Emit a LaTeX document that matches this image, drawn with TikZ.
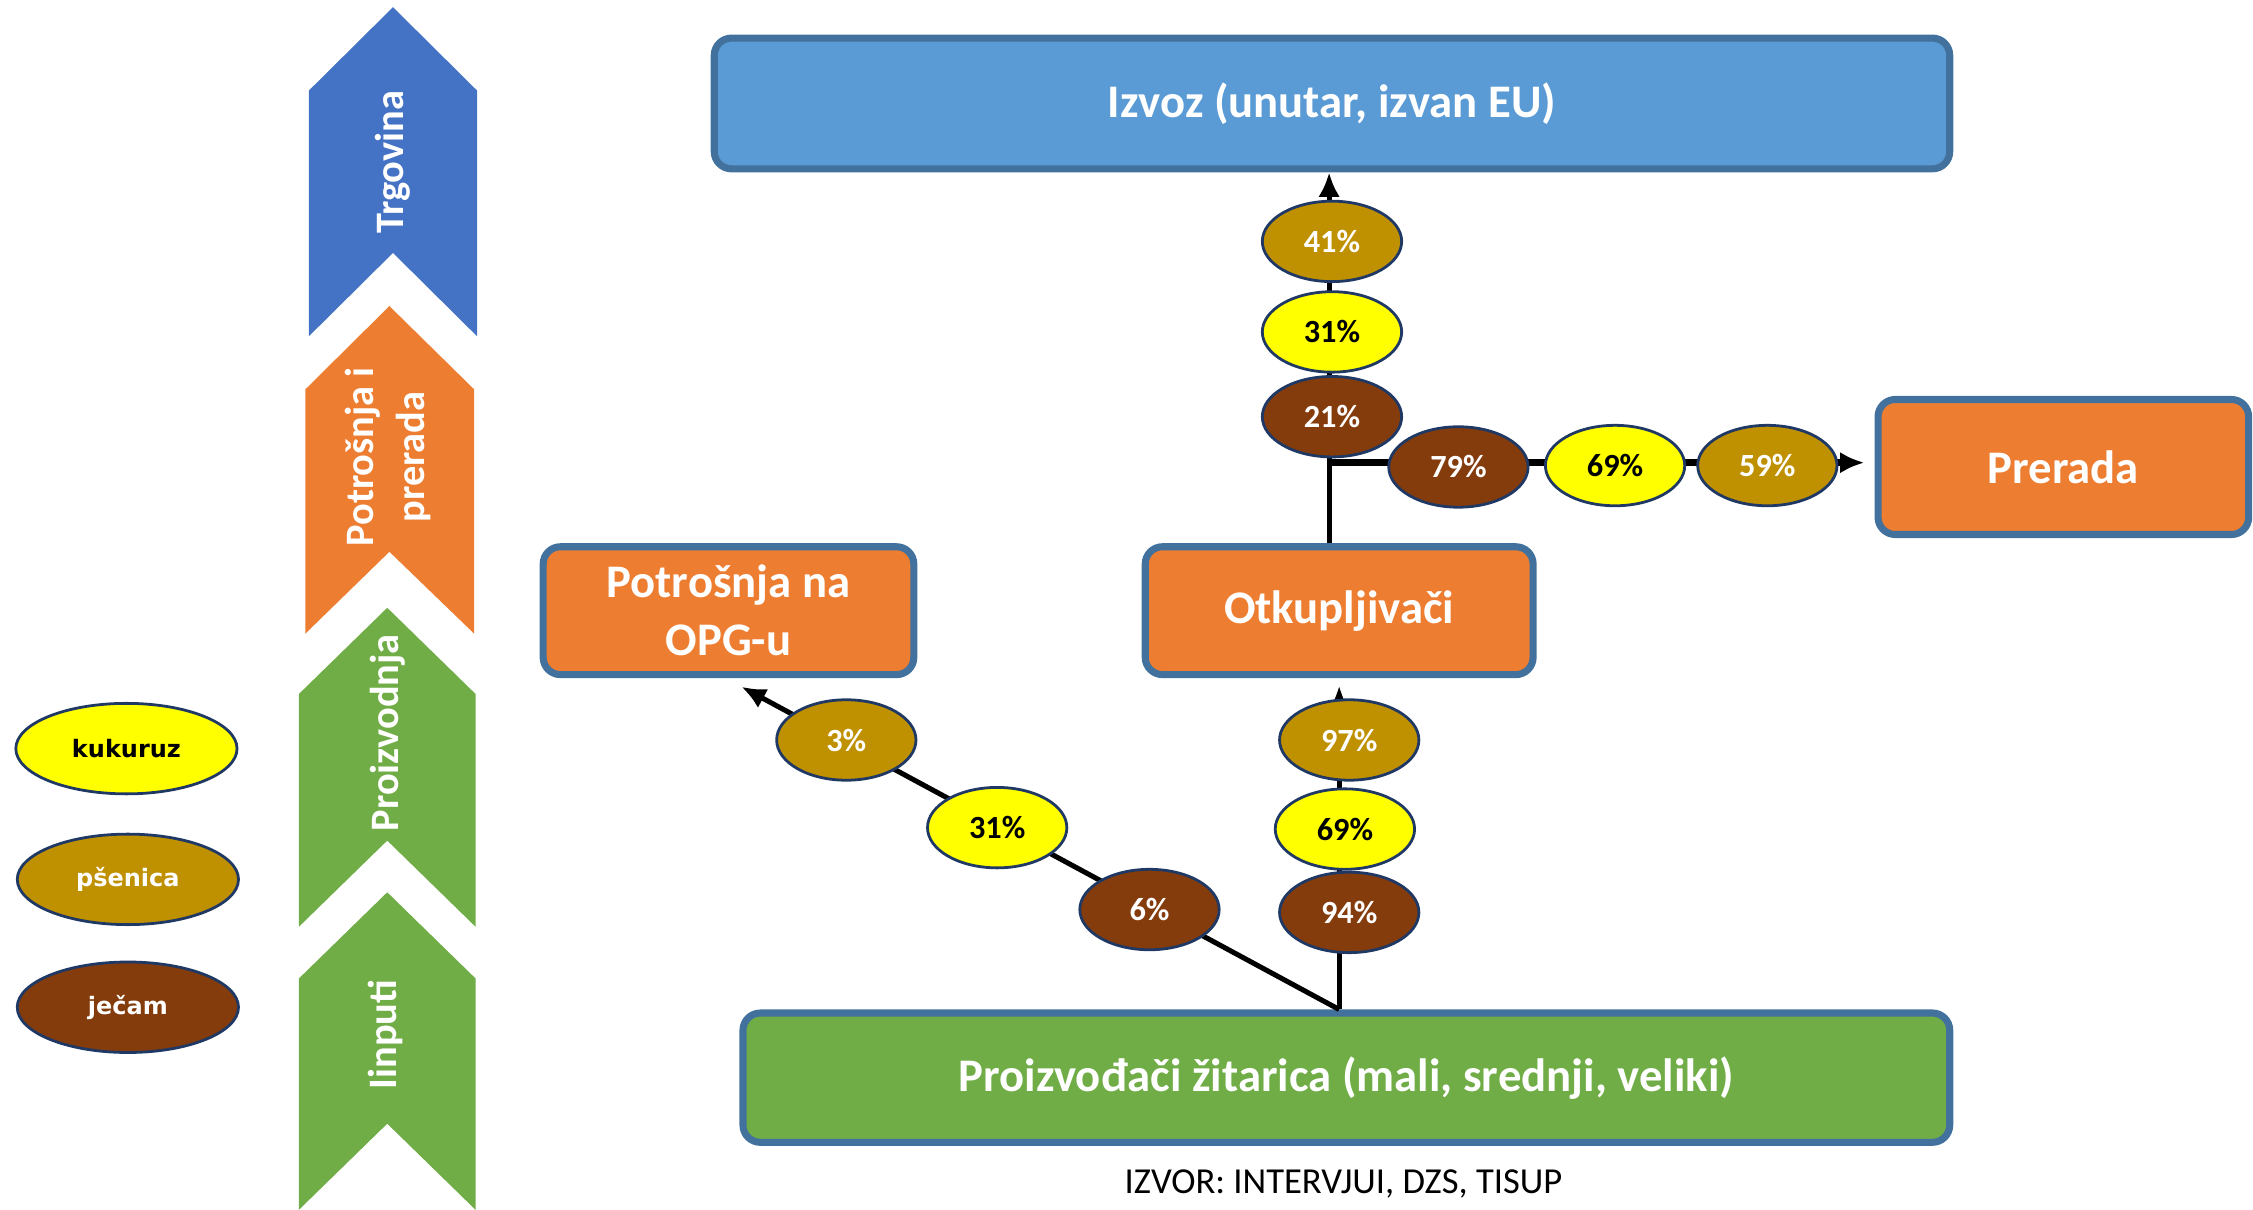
\documentclass[tikz,border=0pt]{standalone}
\usepackage{fontspec}
\setmainfont{Carlito}
\newfontfamily\legfont{DejaVu Sans}
\usetikzlibrary{positioning,shapes.geometric,arrows.meta}
\definecolor{boxblue}{HTML}{5B9BD5}
\definecolor{boxedge}{HTML}{41719C}
\definecolor{boxorange}{HTML}{ED7D31}
\definecolor{boxgreen}{HTML}{70AD47}
\definecolor{chevblue}{HTML}{4472C4}
\definecolor{kukuruzc}{HTML}{FFFF00}
\definecolor{psenicac}{HTML}{BF9000}
\definecolor{jecamc}{HTML}{843C0C}
\definecolor{ringedge}{HTML}{1F3864}

\begin{document}
\begin{tikzpicture}[x=0.02cm, y=-0.02cm,
        box/.style ={rectangle, rounded corners=0.24cm, draw=boxedge, line width=2.8pt,
        text=white, font=\fontsize{18.5}{23}\selectfont\bfseries, align=center, inner sep=0pt},
        ring/.style ={ellipse, draw=ringedge, line width=1.1pt, minimum width=1.94cm,
        minimum height=1.12cm, inner sep=0pt, text=white, font=\fontsize{12.8}{14}\selectfont\bfseries},
        legring/.style ={ring, minimum width=3.08cm, minimum height=1.26cm, font=\legfont\fontsize{9.5}{11}\selectfont\bfseries},
        chevtext/.style ={rotate=90, text=white, align=center, font=\fontsize{16}{20}\selectfont\bfseries},
        flow/.style ={line width=2pt, -{Latex[length=0.34cm, width=0.3cm]}}]

        \useasboundingbox (0,0) rectangle (1568,842);

        % okviri
        \node[box, fill=boxblue, minimum width=17.2cm, minimum height=1.82cm] (izvoz) at (927,72) {Izvoz (unutar, izvan EU)};
        \node[box, fill=boxorange, minimum width=5.16cm, minimum height=1.88cm] (prerada) at (1436,325) {Prerada};
        \node[box, fill=boxorange, minimum width=5.4cm, minimum height=1.78cm] (otkup) at (932,425) {Otkupljiva\v{c}i};
        \node[box, fill=boxorange, minimum width=5.16cm, minimum height=1.78cm] (opg) at (507,425) {Potro\v{s}nja na\\OPG-u};
        \node[box, fill=boxgreen, minimum width=16.8cm, minimum height=1.8cm] (proizv) at (937,750) {Proizvo\dj a\v{c}i \v{z}itarica (mali, srednji, veliki)};
        \node[font=\fontsize{14.5}{17}\selectfont] (izvor) at (935,824) {IZVOR: INTERVJUI, DZS, TISUP};

        % tokovi
        \coordinate (split) at (proizv.north -| otkup.south);
        \coordinate (junc) at (otkup.north |- 0,322);
        \draw[flow] (split) -- ([xshift=0.18cm, yshift=-0.12cm]opg.south);
        \draw[flow, shorten >=3pt] (split) -- (otkup.south);
        \draw[flow] ([xshift=-0.14cm]otkup.north) -- ([xshift=-0.14cm]otkup.north |- izvoz.south);
        \draw[flow, line width=2.8pt, shorten >=0.14cm] ([xshift=-0.14cm]junc) -- (prerada.west |- junc);

        % udjeli
        \node[ring, fill=psenicac] (p41) at (927,168) {41\%};
        \node[ring, fill=kukuruzc, text=black] (k31) at (927,231) {31\%};
        \node[ring, fill=jecamc] (j21) at (927,290) {21\%};
        \node[ring, fill=jecamc] (j79) at (1015,325) {79\%};
        \node[ring, fill=kukuruzc, text=black] (k69) at (1124,324) {69\%};
        \node[ring, fill=psenicac] (p59) at (1230,324) {59\%};
        \node[ring, fill=psenicac] (p3) at (589,515) {3\%};
        \node[ring, fill=kukuruzc, text=black] (k31b) at (694,576) {31\%};
        \node[ring, fill=jecamc] (j6) at (800,633) {6\%};
        \node[ring, fill=psenicac] (p97) at (939,515) {97\%};
        \node[ring, fill=kukuruzc, text=black] (k69b) at (936,577) {69\%};
        \node[ring, fill=jecamc] (j94) at (939,635) {94\%};

        % legenda
        \node[legring, fill=kukuruzc, text=black] (kuk) at (88,521) {kukuruz};
        \node[legring, fill=psenicac] (pse) at (89,612) {p\v{s}enica};
        \node[legring, fill=jecamc] (jec) at (89,701) {je\v{c}am};

        % faze
        \fill[chevblue] (215,63) -- (273.5,5) -- (332,63) -- (332,234) -- (273.5,176) -- (215,234) -- cycle;
        \fill[boxorange] (212.5,271) -- (271,213) -- (330,271) -- (330,441) -- (271,384) -- (212.5,441) -- cycle;
        \fill[boxgreen] (208,483) -- (269.5,423) -- (331,483) -- (331,645) -- (269.5,585) -- (208,645) -- cycle;
        \fill[boxgreen] (208,681) -- (269.5,621) -- (331,681) -- (331,842) -- (269.5,782) -- (208,842) -- cycle;
        \node[chevtext] (trg) at (273,113) {Trgovina};
        \node[chevtext] (pip) at (270,318) {Potro\v{s}nja i\\prerada};
        \node[chevtext] (prz) at (270,510) {Proizvodnja};
        \node[chevtext] (inp) at (268,720) {Iinputi};
    \end{tikzpicture}
\end{document}
